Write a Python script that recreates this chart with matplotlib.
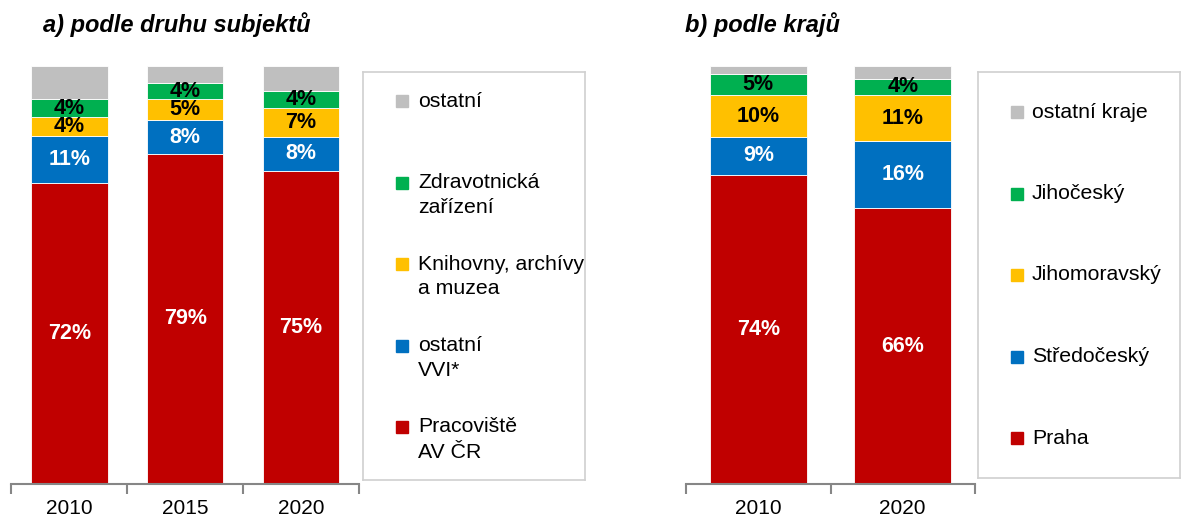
import matplotlib
matplotlib.use("Agg")
import matplotlib.pyplot as plt

plt.rcParams['font.family'] = ['Liberation Sans', 'DejaVu Sans']

# --- data -------------------------------------------------------------
years_a = ['2010', '2015', '2020']
prac_av = [72.1, 79, 75]
ostatni_vvi = [11.2, 8, 8]
knihovny = [4.4, 5, 7]
zdravotnicka = [4.3, 4, 4]
ostatni_a = [8.0, 4, 6]
labels_a = ['Pracoviště\nAV ČR', 'ostatní\nVVI*', 'Knihovny, archívy\na muzea',
            'Zdravotnická\nzařízení', 'ostatní']

years_b = ['2010', '2020']
praha = [74, 66]
stredocesky = [9, 16]
jihomoravsky = [10, 11]
jihocesky = [5, 4]
ostatni_kraje = [2, 3]
labels_b = ['Praha', 'Středočeský', 'Jihomoravský', 'Jihočeský', 'ostatní kraje']

colors = ['#C00000', '#0070C0', '#FFC000', '#00B050', '#BFBFBF']
text_colors = ['white', 'white', 'black', 'black', None]

W, H = 1181, 518
fig = plt.figure(figsize=(W / 100, H / 100), dpi=100)


def px_axes(x0, y0, x1, y1):
    return fig.add_axes([x0 / W, 1 - y1 / H, (x1 - x0) / W, (y1 - y0) / H])


def stacked(ax, years, series, width):
    x = list(range(len(years)))
    bottom = [0] * len(years)
    for vals, col, tcol in zip(series, colors, text_colors):
        ax.bar(x, vals, bottom=bottom, width=width, color=col,
               edgecolor='white', linewidth=0.6)
        if tcol is not None:
            for xi, b, v in zip(x, bottom, vals):
                ax.text(xi, b + v / 2, f'{v:.0f}%', ha='center', va='center',
                        color=tcol, fontsize=15.5, fontweight='bold')
        bottom = [b + v for b, v in zip(bottom, vals)]
    ax.set_xlim(-0.5, len(years) - 0.5)
    ax.set_ylim(0, 100)
    ax.set_xticks(x)
    ax.set_xticklabels(years, fontsize=15)
    ax.set_xticks([i - 0.5 for i in range(len(years) + 1)], minor=True)
    ax.tick_params(axis='x', which='major', length=0, pad=11)
    ax.tick_params(axis='x', which='minor', length=7, width=1.5, color='#868686')
    ax.set_yticks([])
    for s in ['top', 'left', 'right']:
        ax.spines[s].set_visible(False)
    ax.spines['bottom'].set_color('#868686')
    ax.spines['bottom'].set_linewidth(1.5)


def legend_box(ax, labels, y0, step, mx, tx):
    w = ax.get_position().width * W
    h = ax.get_position().height * H
    ax.set_xlim(0, w)
    ax.set_ylim(h, 0)
    ax.set_xticks([])
    ax.set_yticks([])
    for s in ax.spines.values():
        s.set_color('#D0D0D0')
        s.set_linewidth(1.2)
    entries = list(zip(labels, colors))[::-1]
    for i, (lab, col) in enumerate(entries):
        y = y0 + step * i
        ax.plot(mx, y, marker='s', markersize=8, color=col, linestyle='none')
        for k, line in enumerate(lab.split('\n')):
            ax.text(tx, y + 25 * k, line, fontsize=15.3, va='center', ha='left')


ax_a = px_axes(11.5, 66, 359, 484)
stacked(ax_a, years_a, [prac_av, ostatni_vvi, knihovny, zdravotnicka, ostatni_a], 0.66)

ax_b = px_axes(686, 66, 975, 484)
stacked(ax_b, years_b, [praha, stredocesky, jihomoravsky, jihocesky, ostatni_kraje], 0.67)

leg_a = px_axes(363, 72, 585, 480)
legend_box(leg_a, labels_a, 29, 81.5, 39, 55)

leg_b = px_axes(978, 72, 1180, 478)
legend_box(leg_b, labels_b, 40, 81.5, 39, 54)

fig.text(43 / W, 1 - 25 / H, 'a) podle druhu subjektů', fontsize=17,
         fontweight='bold', fontstyle='italic', va='center', ha='left')
fig.text(685 / W, 1 - 25 / H, 'b) podle krajů', fontsize=17,
         fontweight='bold', fontstyle='italic', va='center', ha='left')

fig.savefig('out.png', dpi=100)
